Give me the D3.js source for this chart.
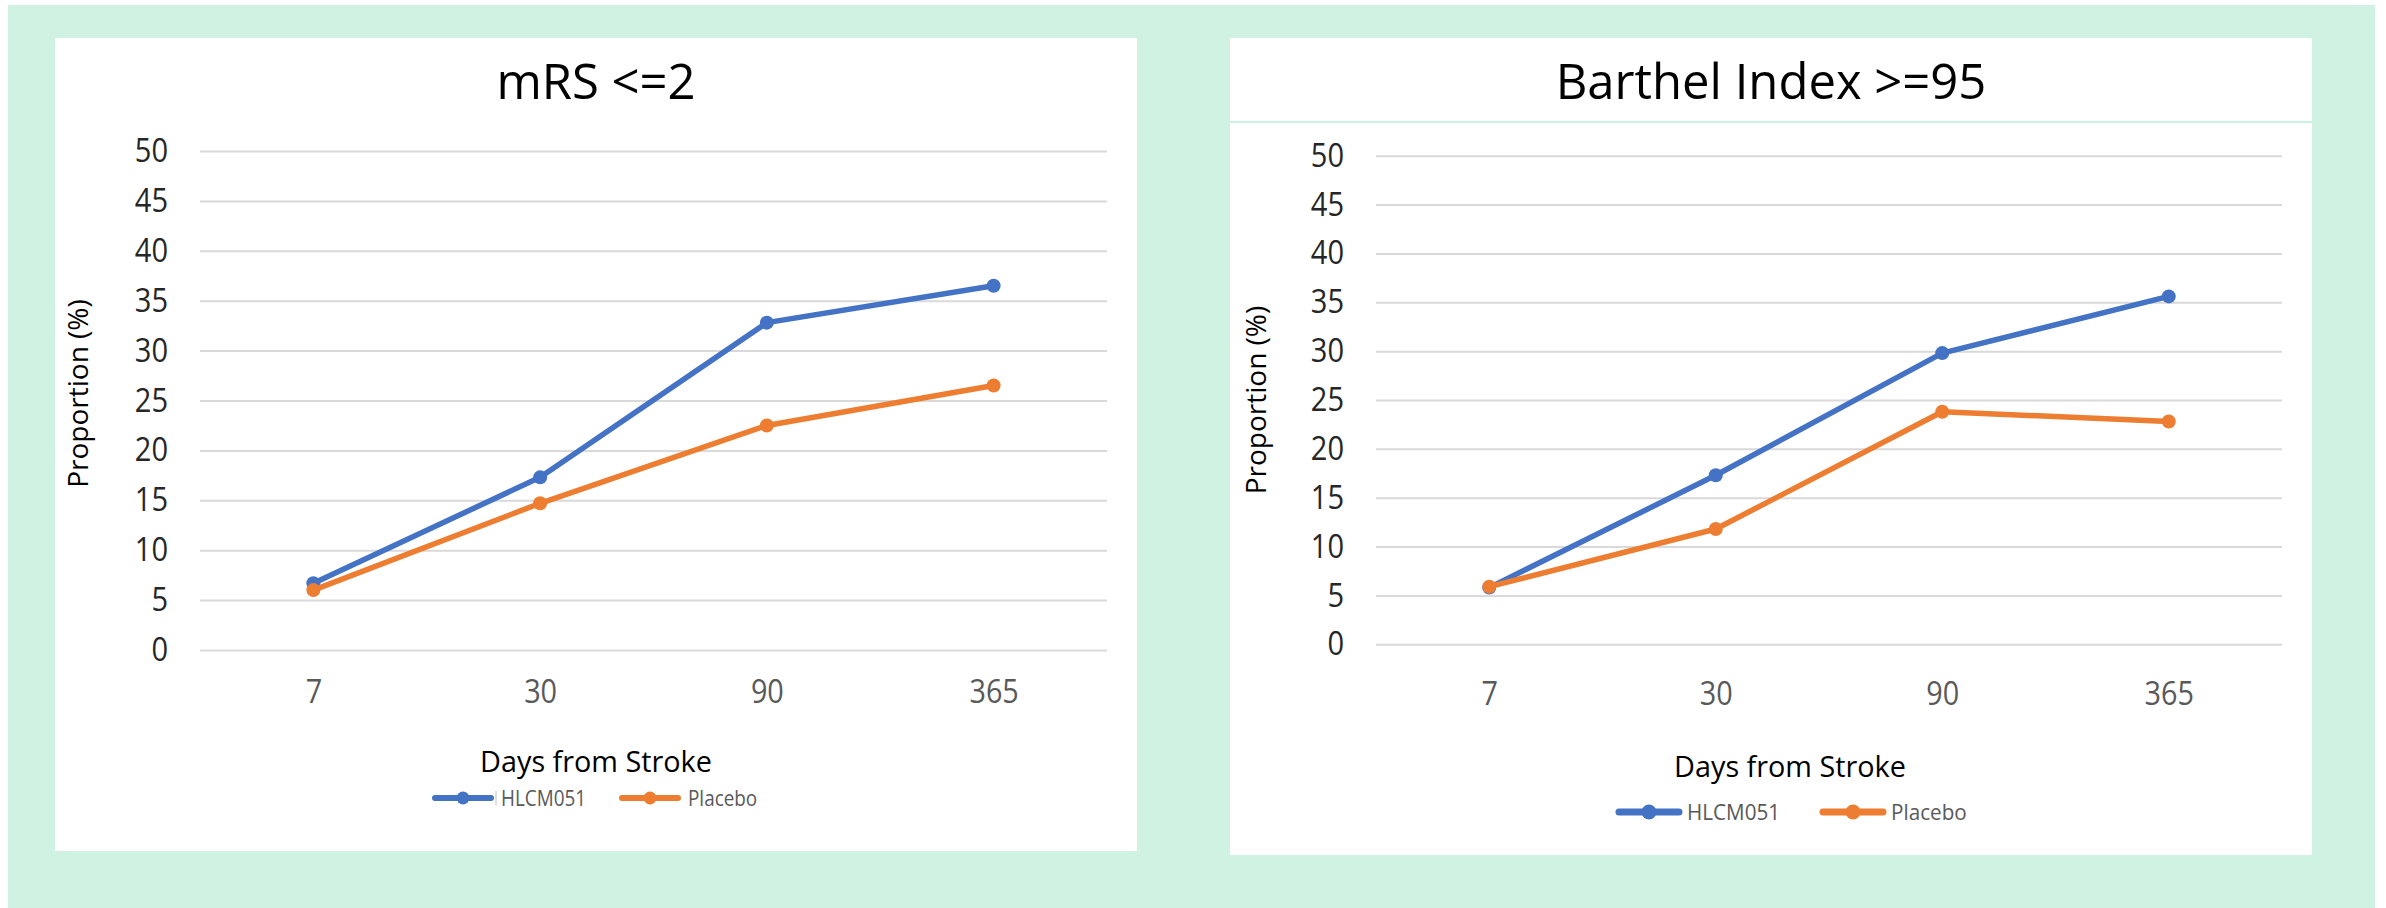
<!DOCTYPE html>
<html>
<head>
<meta charset="utf-8">
<script src="https://cdn.jsdelivr.net/npm/d3@7"></script>
<style>
  html, body { margin: 0; padding: 0; background: #ffffff; }
  svg { display: block; }
  text { font-family: "Open Sans", "Noto Sans", sans-serif; }
</style>
</head>
<body>
<svg id="chart" width="2386" height="908"></svg>
<script>
// Outcome data: proportion of patients (%) by days from stroke
const days = ["7", "30", "90", "365"];
const yTicks = [0, 5, 10, 15, 20, 25, 30, 35, 40, 45, 50];
const seriesNames = ["HLCM051", "Placebo"];
const seriesColors = ["#4472C4", "#ED7D31"];
const mrsHLCM051 = [6.7, 17.3, 32.8, 36.5];
const mrsPlacebo = [6.0, 14.7, 22.5, 26.5];
const barthelHLCM051 = [5.8, 17.3, 29.8, 35.6];
const barthelPlacebo = [5.9, 11.8, 23.8, 22.8];

const svg = d3.select("#chart");

// page background: white edge with mint fill
svg.append("rect").attr("x", 0).attr("y", 0).attr("width", 2386).attr("height", 908).attr("fill", "#ffffff");
svg.append("rect").attr("x", 8).attr("y", 5).attr("width", 2367).attr("height", 903).attr("fill", "#CFF2E3");

// text with optional horizontal condensing
function addText(g, x, y, str, o) {
  const sx = o.sx || 1;
  return g.append("text")
    .attr("transform", `translate(${x},${y})` + (o.rotate ? ` rotate(${o.rotate})` : "") + ` scale(${sx},1)`)
    .attr("text-anchor", o.anchor || "middle")
    .attr("font-size", o.size)
    .attr("fill", o.color || "#000")
    .text(str);
}

function drawPanel(cfg) {
  const g = svg.append("g");
  g.append("rect").attr("x", cfg.panel.x).attr("y", cfg.panel.y)
    .attr("width", cfg.panel.w).attr("height", cfg.panel.h).attr("fill", "#ffffff");
  if (cfg.separatorY) {
    g.append("line").attr("x1", cfg.panel.x).attr("x2", cfg.panel.x + cfg.panel.w)
      .attr("y1", cfg.separatorY).attr("y2", cfg.separatorY)
      .attr("stroke", "#C9F1E3").attr("stroke-width", 2);
  }

  const cx = cfg.panel.x + cfg.panel.w / 2;
  addText(g, cx, cfg.titleY, cfg.title, { size: 49, color: "#000" });

  const x = d3.scalePoint().domain(days).range([cfg.x0, cfg.x1]).padding(0.5);
  const y = d3.scaleLinear().domain([0, 50]).range([cfg.yBottom, cfg.yTop]);

  // horizontal gridlines and y tick labels
  const sy = 0.88;
  const yAxis = g.append("g").attr("transform", `translate(${cfg.x0},0)`)
    .call(d3.axisLeft(y).tickValues(yTicks).tickSize(-(cfg.x1 - cfg.x0)).tickPadding(32));
  yAxis.select(".domain").remove();
  yAxis.selectAll(".tick line").attr("stroke", "#D9D9D9").attr("stroke-width", 2);
  yAxis.selectAll(".tick text")
    .attr("font-family", "Open Sans").attr("font-size", 33).attr("fill", "#262626")
    .attr("x", -32 / sy).attr("transform", `scale(${sy},1)`);

  // category labels
  const sxT = 0.9;
  const xAxis = g.append("g").attr("transform", `translate(0,${cfg.yBottom})`)
    .call(d3.axisBottom(x).tickSize(0));
  xAxis.select(".domain").remove();
  xAxis.selectAll(".tick text")
    .attr("font-family", "Open Sans").attr("font-size", 32).attr("fill", "#595959")
    .attr("y", cfg.xTickOffset).attr("dy", null)
    .attr("transform", `scale(${sxT},1)`)
    .attr("x", 0);

  // axis titles
  addText(g, cfg.xTitleX, cfg.xTitleY, "Days from Stroke", { size: 30, sx: 0.96, color: "#000" });
  addText(g, cfg.yTitleX, (cfg.yTop + cfg.yBottom) / 2 - cfg.yTitleShift, "Proportion (%)",
    { size: 28, rotate: -90, color: "#000" });

  // series lines and markers
  const line = d3.line().x((d, i) => x(days[i])).y(d => y(d));
  cfg.series.forEach((vals, si) => {
    g.append("path").datum(vals).attr("d", line)
      .attr("fill", "none").attr("stroke", seriesColors[si])
      .attr("stroke-width", 5.5).attr("stroke-linejoin", "round").attr("stroke-linecap", "round");
    g.selectAll(null).data(vals).enter().append("circle")
      .attr("cx", (d, i) => x(days[i])).attr("cy", d => y(d))
      .attr("r", 7).attr("fill", seriesColors[si]);
  });

  // legend
  const L = cfg.legend;
  seriesNames.forEach((name, si) => {
    const lx = L.items[si];
    g.append("line").attr("x1", lx).attr("x2", lx + L.lineW)
      .attr("y1", L.y).attr("y2", L.y)
      .attr("stroke", seriesColors[si]).attr("stroke-width", L.stroke).attr("stroke-linecap", "round");
    g.append("circle").attr("cx", lx + L.lineW / 2).attr("cy", L.y).attr("r", L.r).attr("fill", seriesColors[si]);
    addText(g, lx + L.lineW + L.gap, L.y + L.size * 0.36, name,
      { size: L.size, anchor: "start", color: "#595959", sx: L.sx });
  });
  if (L.mark) {
    g.append("line").attr("x1", L.mark).attr("x2", L.mark).attr("y1", L.y - 7).attr("y2", L.y + 7)
      .attr("stroke", "#bfbfbf").attr("stroke-width", 1);
  }
}

drawPanel({
  title: "mRS <=2",
  panel: { x: 55, y: 38, w: 1082, h: 813 },
  titleY: 99,
  x0: 200, x1: 1107, yTop: 151, yBottom: 650,
  xTickOffset: 53,
  xTitleX: 596, xTitleY: 772,
  yTitleX: 88, yTitleShift: 7,
  series: [mrsHLCM051, mrsPlacebo],
  legend: { y: 798, items: [435, 622], lineW: 56, gap: 10, r: 6.5, stroke: 6, size: 21, sx: 0.9, mark: 496 }
});

drawPanel({
  title: "Barthel Index >=95",
  panel: { x: 1230, y: 38, w: 1082, h: 817 },
  separatorY: 122,
  titleY: 99,
  x0: 1376, x1: 2282, yTop: 155.7, yBottom: 644.3,
  xTickOffset: 61,
  xTitleX: 1790, xTitleY: 777,
  yTitleX: 1266, yTitleShift: 0,
  series: [barthelHLCM051, barthelPlacebo],
  legend: { y: 812, items: [1619, 1823], lineW: 60, gap: 8, r: 7.5, stroke: 7, size: 22.5, sx: 0.92 }
});
</script>
</body>
</html>
